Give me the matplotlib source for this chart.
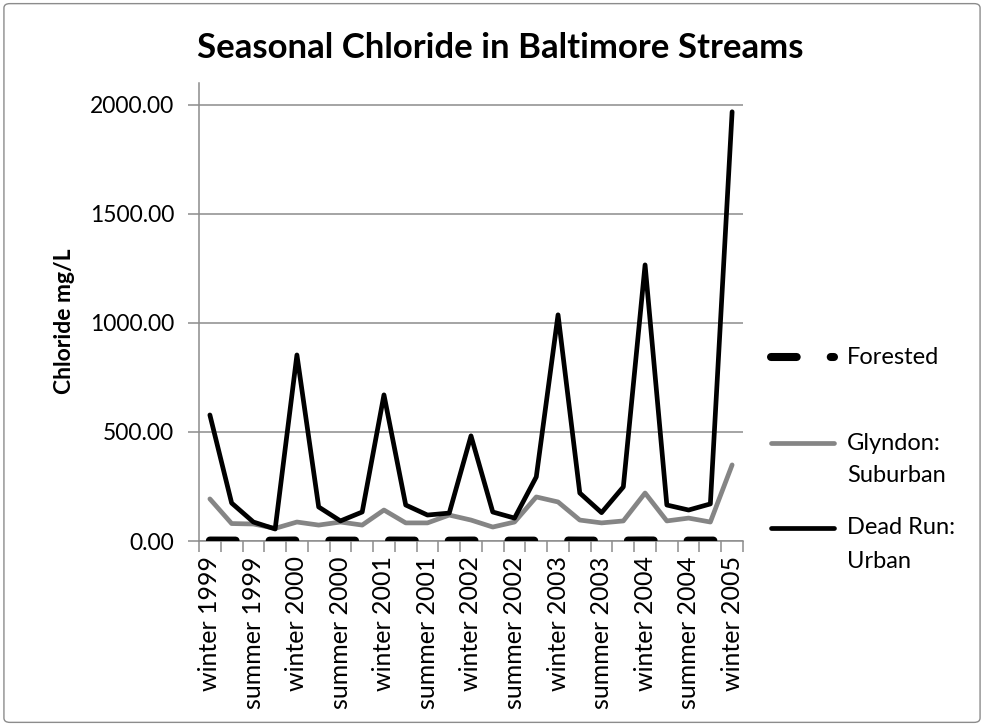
import matplotlib
matplotlib.use("Agg")
import matplotlib.pyplot as plt
from matplotlib.lines import Line2D
from matplotlib.patches import FancyBboxPatch
from matplotlib.ticker import FixedLocator, FuncFormatter

plt.rcParams['font.family'] = ['Lato', 'DejaVu Sans']
plt.rcParams['lines.scale_dashes'] = False

# Seasonal sampling periods, winter 1999 through winter 2005
categories = [
    "winter 1999", "spring 1999", "summer 1999", "fall 1999",
    "winter 2000", "spring 2000", "summer 2000", "fall 2000",
    "winter 2001", "spring 2001", "summer 2001", "fall 2001",
    "winter 2002", "spring 2002", "summer 2002", "fall 2002",
    "winter 2003", "spring 2003", "summer 2003", "fall 2003",
    "winter 2004", "spring 2004", "summer 2004", "fall 2004",
    "winter 2005",
]

# Mean chloride concentration (mg/L) per season
forested = [2.0, 1.8, 1.6, 1.5, 2.2, 1.9, 1.7, 1.6, 2.1, 1.8, 1.6, 1.5, 2.0,
            1.8, 1.6, 1.7, 2.3, 1.9, 1.7, 1.8, 2.4, 1.9, 1.7, 1.8, 2.6]
glyndon = [193, 80, 78, 58, 87, 73, 87, 73, 142, 83, 83, 119, 96,
           64, 87, 202, 179, 96, 83, 92, 220, 92, 105, 87, 349]
dead_run = [578, 174, 87, 55, 853, 156, 92, 133, 670, 165, 119, 128, 482,
            133, 105, 294, 1037, 220, 130, 248, 1266, 165, 142, 170, 1968]

series_labels = ["Forested", "Glyndon:\nSuburban", "Dead Run:\nUrban"]

axis_gray = "#8c8c8c"
W, H = 984, 726
DPI = 100
fig = plt.figure(figsize=(W / DPI, H / DPI), dpi=DPI)

# plot area in pixel terms
left, right, bottom, top = 199, 743, 541, 83
ax = fig.add_axes([left / W, 1 - bottom / H, (right - left) / W, (bottom - top) / H])

x = list(range(len(categories)))
style_forested = dict(color="black", lw=5.8, linestyle=(0, (18.5, 24.5)),
                      dash_capstyle="round", solid_capstyle="round")
style_glyndon = dict(color="#858585", lw=3.4, solid_joinstyle="round",
                     solid_capstyle="round")
style_dead_run = dict(color="black", lw=3.4, solid_joinstyle="round",
                      solid_capstyle="round")
ax.plot(x, forested, zorder=3, **style_forested)
ax.plot(x, glyndon, zorder=3, **style_glyndon)
ax.plot(x, dead_run, zorder=4, **style_dead_run)

ax.set_xlim(-0.5, len(categories) - 0.5)
ax.set_ylim(0, 2100)

# y axis: gridlines every 500
yticks = [0, 500, 1000, 1500, 2000]
ax.yaxis.set_major_locator(FixedLocator(yticks))
ax.yaxis.set_major_formatter(FuncFormatter(lambda v, p: f"{v:.2f}"))
ax.grid(axis="y", color=axis_gray, lw=1.1, zorder=0)
ax.tick_params(axis="y", direction="out", length=8, width=1.1, color=axis_gray,
               labelsize=16.5, pad=10)

# x axis: tick marks between categories, labels on every other category
ax.xaxis.set_major_locator(FixedLocator(x[::2]))
ax.set_xticklabels(categories[::2], rotation=90)
ax.xaxis.set_minor_locator(FixedLocator([i - 0.5 for i in range(len(categories) + 1)]))
ax.tick_params(axis="x", which="major", length=0, labelsize=18, pad=11)
ax.tick_params(axis="x", which="minor", direction="out", length=8, width=1.1, color=axis_gray)

for side in ("top", "right"):
    ax.spines[side].set_visible(False)
for side in ("left", "bottom"):
    ax.spines[side].set_color(axis_gray)
    ax.spines[side].set_linewidth(1.1)

ax.set_ylabel("Chloride mg/L", fontsize=16.5, fontweight="bold")
ax.yaxis.set_label_coords(-0.228, 0.48)

fig.suptitle("Seasonal Chloride in Baltimore Streams", fontsize=25, fontweight="bold",
             x=500 / W, y=1 - 32 / H, va="top")

# legend to the right of the plot area (sample line on the first text line)
legend_rows_px = [357, 443, 528]        # vertical centre of each entry, pixels from top
line_x0, line_x1, text_x = 771, 834, 847
row_gap_px = 33
fig_tr = fig.transFigure
for style, label, ypx in zip([style_forested, style_glyndon, style_dead_run],
                             series_labels, legend_rows_px):
    yf = 1 - ypx / H
    fig.add_artist(Line2D([line_x0 / W, line_x1 / W], [yf, yf], transform=fig_tr, **style))
    for k, line in enumerate(label.split("\n")):
        fig.text(text_x / W, 1 - (ypx + k * row_gap_px) / H, line, fontsize=17,
                 ha="left", va="center")

# outer chart border
fig.patches.append(FancyBboxPatch((0.004, 0.005), 0.992, 0.99,
                                  boxstyle="round,pad=0,rounding_size=0.006",
                                  transform=fig.transFigure, fill=False,
                                  edgecolor=axis_gray, lw=1.0))

fig.savefig("out.png", dpi=DPI)
